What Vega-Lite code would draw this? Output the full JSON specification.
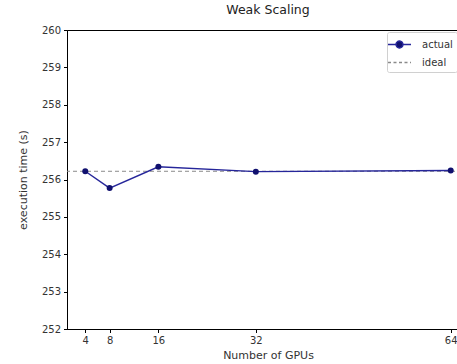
{
  "$schema": "https://vega.github.io/schema/vega-lite/v6.json",
  "autosize": {"type": "none"},
  "padding": {"left": 67, "top": 30, "right": 0, "bottom": 35},
  "width": 402,
  "height": 299,
  "title": {"text": "Weak Scaling", "fontSize": 12.5, "font": "DejaVu Sans", "fontWeight": "normal", "color": "#222", "offset": 9, "anchor": "middle"},
  "config": {
    "view": {"stroke": "#000", "strokeWidth": 1},
    "font": "DejaVu Sans",
    "axis": {"grid": false, "domainColor": "#000", "tickColor": "#000", "tickSize": 3.5, "labelFontSize": 10, "labelColor": "#333", "titleFontSize": 11, "titleFontWeight": "normal", "titleColor": "#333", "labelFont": "DejaVu Sans", "titleFont": "DejaVu Sans", "labelOverlap": false}
  },
  "data": {"values": [
    {"gpus": 4, "time": 256.22, "series": "actual"},
    {"gpus": 8, "time": 255.77, "series": "actual"},
    {"gpus": 16, "time": 256.34, "series": "actual"},
    {"gpus": 32, "time": 256.21, "series": "actual"},
    {"gpus": 64, "time": 256.24, "series": "actual"}
  ]},
  "layer": [
    {
      "data": {"values": [{"time": 256.22, "series": "ideal"}]},
      "mark": {"type": "rule", "strokeDash": [4, 3], "strokeWidth": 1},
      "encoding": {
        "y": {"field": "time", "type": "quantitative", "scale": {"domain": [252, 260], "nice": false, "zero": false},
              "axis": {"values": [252, 253, 254, 255, 256, 257, 258, 259, 260], "tickCount": 9, "title": "execution time (s)", "titleFontSize": 11, "titlePadding": 13, "labelPadding": 3}},
        "color": {"field": "series", "type": "nominal"}
      }
    },
    {
      "mark": {"type": "line", "strokeWidth": 1.4},
      "encoding": {
        "x": {"field": "gpus", "type": "quantitative", "scale": {"domain": [1, 67], "nice": false, "zero": false},
              "axis": {"values": [4, 8, 16, 32, 64], "title": "Number of GPUs", "titlePadding": 4, "labelPadding": 3}},
        "y": {"field": "time", "type": "quantitative", "scale": {"domain": [252, 260], "nice": false, "zero": false},
              "axis": {"values": [252, 253, 254, 255, 256, 257, 258, 259, 260], "tickCount": 9, "title": "execution time (s)", "titleFontSize": 11, "titlePadding": 13, "labelPadding": 3}},
        "color": {"field": "series", "type": "nominal",
                  "scale": {"domain": ["actual", "ideal"], "range": ["#26269a", "#8a8a8a"]},
                  "legend": {
                    "title": null, "orient": "none", "legendX": 320, "legendY": 2,
                    "fillColor": "#fff", "strokeColor": "#d0d0d0", "padding": 4, "cornerRadius": 2,
                    "labelFontSize": 10, "labelColor": "#333", "labelFont": "DejaVu Sans", "labelOffset": 14,
                    "rowPadding": 3, "symbolSize": 235, "symbolStrokeWidth": 1.4,
                    "encode": {"symbols": {"update": {
                      "shape": {"signal": "datum.value === 'ideal' ? 'M-1.5,0L1.5,0' : 'M-1.5,0L-0.45,0M0.45,0L1.5,0M-0.45,0A0.45,0.45 0 1,0 0.45,0A0.45,0.45 0 1,0 -0.45,0'"},
                      "fill": {"signal": "datum.value === 'ideal' ? 'transparent' : '#10106e'"},
                      "strokeDash": {"signal": "datum.value === 'ideal' ? [3, 2.5] : [1, 0]"}
                    }}}
                  }}
      }
    },
    {
      "mark": {"type": "point", "filled": true, "size": 36, "opacity": 1, "color": "#10106e"},
      "encoding": {
        "x": {"field": "gpus", "type": "quantitative"},
        "y": {"field": "time", "type": "quantitative"}
      }
    }
  ]
}
